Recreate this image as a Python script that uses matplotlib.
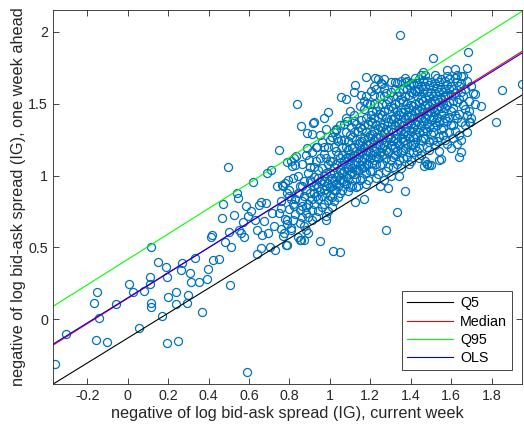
import numpy as np
import matplotlib.pyplot as plt

# Points: current week (x) vs one week ahead (y)
x_sparse = [-0.361, -0.307, -0.167, -0.150, -0.142, -0.158, -0.104, -0.059, 0.007, 0.028,
            0.056, 0.081, 0.109, 0.114, 0.109, 0.114, 0.114, 0.150, 0.168, 0.188,
            0.196, 0.198, 0.193, 0.237, 0.237, 0.249, 0.262, 0.270, 0.292, 0.298,
            0.308, 0.315, 0.335, 0.353, 0.369, 0.394, 0.397, 0.414, 0.419, 0.424,
            0.452, 0.473, 0.468, 0.480, 0.496, 0.503, 0.506, 0.513, 0.526, 0.542,
            0.546, 0.551, 0.559, 0.572, 0.575, 0.584, 0.592, 0.595, 0.608, 0.621,
            0.628, 0.638, 0.641, 0.650, 0.658, 0.666, 0.674, 0.683, 0.691, 0.694,
            0.704, 0.707, 0.716, 0.724, 0.727, 0.740, 0.749, 0.757, 0.765, 0.773,
            0.782, 0.790, 0.793, 0.798, 0.806, 0.815, 0.823, 0.831, 0.839, 0.847,
            0.852, 0.856, 0.864, 0.872, 0.880, 0.889, 0.897, 0.905, 0.658, 0.971,
            0.993, 1.054, 1.082, 1.124, 1.179, 1.222, 1.240, 1.255, 1.186, 1.347,
            1.509, 1.684, 1.853, 1.824, 1.950, 1.276, 1.331, 1.370, 1.016, 1.050,
            0.950, 1.124, 1.169, 1.012, 0.979, 0.856, 0.786, 1.650, 1.640, 1.466,
            1.542, 1.746, 1.720, 1.693, 1.480, 1.120, 0.920,
            1.260, 1.152, 1.202, 0.918, 0.913, 1.029, 0.971, 1.053, 1.103, 1.152,
            1.202, 0.822, 0.790, 0.938, 0.889, 1.087, 1.037, 1.680, 1.647, 1.620,
            1.580, 1.490, 1.548]
y_sparse = [-0.311, -0.102, 0.111, 0.188, 0.007, -0.144, -0.160, 0.107, 0.244, 0.188,
            -0.060, 0.200, 0.293, 0.506, 0.246, 0.111, 0.088, 0.402, 0.023, 0.367,
            0.297, 0.158, -0.167, 0.193, 0.107, -0.149, 0.344, 0.395, 0.116, 0.170,
            0.321, 0.262, 0.425, 0.262, 0.053, 0.283, 0.348, 0.571, 0.588, 0.413,
            0.418, 0.804, 0.704, 0.541, 1.057, 0.606, 0.237, 0.502, 0.727, 0.878,
            0.843, 0.623, 0.599, 0.674, 0.576, 0.785, -0.365, 0.716, 0.750, 0.952,
            0.692, 0.451, 0.623, 0.797, 0.495, 0.588, 0.681, 0.808, 1.017, 0.599,
            0.506, 1.040, 0.739, 0.646, 0.483, 0.925, 1.180, 0.774, 0.936, 0.599,
            0.518, 0.692, 0.971, 0.855, 0.634, 1.064, 0.785, 1.134, 1.494, 0.878,
            0.553, 1.343, 0.785, 0.553, 0.623, 1.296, 1.110, 0.952, 0.818, 1.401,
            1.440, 1.545, 1.533, 1.628, 1.684, 1.675, 1.670, 1.640, 1.505, 1.977,
            1.819, 1.855, 1.591, 1.370, 1.633, 0.623, 0.746, 0.890, 0.472, 0.465,
            0.548, 0.813, 0.836, 0.780, 0.692, 0.553, 0.518, 1.161, 1.130, 1.064,
            1.110, 1.482, 1.568, 1.370, 1.080, 1.580, 1.370,
            1.635, 1.561, 1.584, 1.368, 1.289, 1.317, 1.196, 1.247, 1.340, 1.387,
            1.422, 1.120, 1.096, 1.201, 1.189, 1.376, 1.259, 1.747, 1.689, 1.740,
            1.730, 1.073, 1.113]

# Dense cluster, read strip by strip along x
cluster = [
    (0.76, 0.82), (0.77, 0.93), (0.78, 0.70), (0.79, 0.88), (0.76, 0.63), (0.80, 0.77),
    (0.78, 0.95), (0.77, 0.58), (0.80, 0.90), (0.79, 0.66), (0.75, 0.74), (0.81, 0.84),
    (0.81, 0.62), (0.82, 0.98), (0.83, 0.73), (0.84, 0.88), (0.82, 0.80), (0.85, 0.67),
    (0.83, 1.07), (0.84, 0.57), (0.85, 0.93), (0.81, 1.10), (0.83, 0.84), (0.85, 0.76),
    (0.82, 0.69), (0.84, 1.00),
    (0.86, 0.82), (0.87, 0.96), (0.88, 0.74), (0.89, 1.02), (0.86, 1.08), (0.87, 0.65),
    (0.88, 0.90), (0.89, 0.80), (0.90, 0.97), (0.86, 0.71), (0.88, 1.14), (0.87, 0.86),
    (0.89, 0.60), (0.90, 0.88), (0.88, 0.78), (0.86, 0.93), (0.90, 1.06), (0.89, 0.71),
    (0.91, 0.84), (0.92, 0.99), (0.93, 1.10), (0.94, 0.92), (0.91, 0.76), (0.92, 0.88),
    (0.93, 0.71), (0.94, 1.04), (0.95, 0.96), (0.91, 1.16), (0.92, 0.80), (0.93, 0.94),
    (0.94, 0.84), (0.95, 1.12), (0.91, 0.69), (0.92, 1.06), (0.93, 0.86), (0.94, 0.75),
    (0.95, 0.89), (0.93, 1.20), (0.92, 0.93), (0.94, 0.98), (0.95, 1.28), (0.98, 1.32),
    (0.96, 0.86), (0.97, 1.00), (0.98, 0.93), (0.99, 1.08), (0.96, 0.78), (0.97, 1.15),
    (0.98, 0.72), (0.99, 0.95), (1.00, 1.02), (0.96, 1.05), (0.97, 0.90), (0.98, 1.12),
    (0.99, 0.83), (1.00, 0.92), (0.96, 0.97), (0.97, 0.80), (0.98, 1.02), (0.99, 1.20),
    (1.00, 0.86), (0.96, 1.23), (0.98, 0.88), (0.99, 0.75), (1.00, 1.10), (0.97, 0.96),
    (1.00, 1.25), (1.02, 1.30), (1.05, 1.35), (1.08, 1.40), (1.10, 1.45), (1.12, 1.38),
    (1.01, 0.98), (1.02, 1.06), (1.03, 0.90), (1.04, 1.14), (1.01, 0.85), (1.02, 1.20),
    (1.03, 0.99), (1.04, 0.93), (1.05, 1.04), (1.01, 1.10), (1.02, 0.82), (1.03, 1.08),
    (1.04, 1.00), (1.05, 0.88), (1.01, 0.93), (1.02, 0.96), (1.03, 1.17), (1.04, 0.85),
    (1.05, 1.12), (1.01, 1.27), (1.02, 1.02), (1.03, 0.94), (1.04, 1.24), (1.05, 0.97),
    (1.03, 1.32), (1.02, 0.90),
    (1.06, 1.02), (1.07, 1.10), (1.08, 0.94), (1.09, 1.18), (1.06, 0.90), (1.07, 1.25),
    (1.08, 1.05), (1.09, 0.98), (1.10, 1.08), (1.06, 1.14), (1.07, 0.96), (1.08, 1.20),
    (1.09, 1.06), (1.10, 0.92), (1.06, 1.07), (1.07, 1.03), (1.08, 1.30), (1.09, 0.89),
    (1.10, 1.15), (1.06, 0.97), (1.08, 1.12), (1.09, 1.24), (1.10, 1.01), (1.07, 1.36),
    (1.06, 1.20), (1.09, 1.13), (1.10, 1.28), (1.08, 0.99),
    (1.11, 1.05), (1.12, 1.14), (1.13, 0.98), (1.14, 1.22), (1.11, 0.93), (1.12, 1.30),
    (1.13, 1.10), (1.14, 1.04), (1.15, 1.16), (1.11, 1.19), (1.12, 1.01), (1.13, 1.25),
    (1.14, 1.12), (1.15, 0.97), (1.11, 1.12), (1.12, 1.08), (1.13, 1.36), (1.14, 0.93),
    (1.15, 1.23), (1.11, 1.02), (1.12, 1.20), (1.13, 1.17), (1.14, 1.31), (1.15, 1.07),
    (1.12, 1.42), (1.11, 1.27), (1.13, 1.04), (1.14, 1.15), (1.15, 1.34), (1.13, 0.92),
    (1.15, 1.48), (1.18, 1.55), (1.20, 1.50), (1.22, 1.62), (1.25, 1.55), (1.27, 1.67),
    (1.16, 1.10), (1.17, 1.20), (1.18, 1.02), (1.19, 1.27), (1.16, 0.98), (1.17, 1.35),
    (1.18, 1.14), (1.19, 1.08), (1.20, 1.22), (1.16, 1.24), (1.17, 1.06), (1.18, 1.30),
    (1.19, 1.17), (1.20, 1.03), (1.16, 1.16), (1.17, 1.12), (1.18, 1.40), (1.19, 0.97),
    (1.20, 1.28), (1.16, 1.05), (1.17, 1.26), (1.18, 1.22), (1.19, 1.36), (1.20, 1.12),
    (1.17, 1.46), (1.16, 1.32), (1.18, 1.08), (1.19, 1.21), (1.20, 1.38), (1.18, 0.94),
    (1.17, 1.52), (1.20, 1.16),
    (1.21, 1.14), (1.22, 1.25), (1.23, 1.08), (1.24, 1.32), (1.21, 1.03), (1.22, 1.40),
    (1.23, 1.19), (1.24, 1.12), (1.25, 1.27), (1.21, 1.29), (1.22, 1.11), (1.23, 1.35),
    (1.24, 1.22), (1.25, 1.07), (1.21, 1.20), (1.22, 1.17), (1.23, 1.45), (1.24, 1.01),
    (1.25, 1.34), (1.21, 1.09), (1.22, 1.31), (1.23, 1.27), (1.24, 1.41), (1.25, 1.16),
    (1.22, 1.50), (1.21, 1.37), (1.23, 1.13), (1.24, 1.26), (1.25, 1.43), (1.23, 0.98),
    (1.22, 1.56), (1.25, 1.21), (1.24, 1.48), (1.21, 1.45), (1.23, 1.60), (1.25, 0.93),
    (1.26, 1.19), (1.27, 1.30), (1.28, 1.12), (1.29, 1.37), (1.26, 1.08), (1.27, 1.45),
    (1.28, 1.24), (1.29, 1.16), (1.30, 1.32), (1.26, 1.34), (1.27, 1.15), (1.28, 1.40),
    (1.29, 1.27), (1.30, 1.11), (1.26, 1.25), (1.27, 1.21), (1.28, 1.50), (1.29, 1.06),
    (1.30, 1.39), (1.26, 1.14), (1.27, 1.36), (1.28, 1.32), (1.29, 1.46), (1.30, 1.21),
    (1.27, 1.55), (1.26, 1.42), (1.28, 1.18), (1.29, 1.31), (1.30, 1.48), (1.28, 1.03),
    (1.27, 1.61), (1.30, 1.26), (1.29, 1.53), (1.26, 1.50), (1.28, 1.57), (1.30, 1.00),
    (1.29, 0.91), (1.27, 0.97), (1.30, 1.58), (1.30, 1.65),
    (1.31, 1.24), (1.32, 1.35), (1.33, 1.17), (1.34, 1.42), (1.31, 1.13), (1.32, 1.50),
    (1.33, 1.29), (1.34, 1.21), (1.35, 1.37), (1.31, 1.39), (1.32, 1.20), (1.33, 1.45),
    (1.34, 1.32), (1.35, 1.16), (1.31, 1.30), (1.32, 1.26), (1.33, 1.55), (1.34, 1.11),
    (1.35, 1.44), (1.31, 1.19), (1.32, 1.41), (1.33, 1.37), (1.34, 1.51), (1.35, 1.26),
    (1.32, 1.60), (1.31, 1.47), (1.33, 1.23), (1.34, 1.36), (1.35, 1.53), (1.33, 1.08),
    (1.32, 1.65), (1.35, 1.31), (1.34, 1.58), (1.31, 1.55), (1.33, 1.64), (1.35, 1.05),
    (1.34, 1.00), (1.31, 1.06), (1.35, 1.66), (1.32, 1.14),
    (1.36, 1.29), (1.37, 1.40), (1.38, 1.22), (1.39, 1.47), (1.36, 1.18), (1.37, 1.55),
    (1.38, 1.34), (1.39, 1.26), (1.40, 1.42), (1.36, 1.44), (1.37, 1.25), (1.38, 1.50),
    (1.39, 1.37), (1.40, 1.21), (1.36, 1.35), (1.37, 1.31), (1.38, 1.60), (1.39, 1.16),
    (1.40, 1.49), (1.36, 1.24), (1.37, 1.46), (1.38, 1.42), (1.39, 1.56), (1.40, 1.31),
    (1.37, 1.65), (1.36, 1.52), (1.38, 1.28), (1.39, 1.41), (1.40, 1.58), (1.38, 1.13),
    (1.37, 1.68), (1.40, 1.36), (1.39, 1.63), (1.36, 1.60), (1.38, 1.66), (1.40, 1.10),
    (1.39, 1.08), (1.36, 1.12), (1.40, 1.64), (1.37, 1.19),
    (1.41, 1.33), (1.42, 1.45), (1.43, 1.27), (1.44, 1.51), (1.41, 1.22), (1.42, 1.59),
    (1.43, 1.38), (1.44, 1.30), (1.45, 1.47), (1.41, 1.48), (1.42, 1.29), (1.43, 1.55),
    (1.44, 1.41), (1.45, 1.25), (1.41, 1.40), (1.42, 1.36), (1.43, 1.64), (1.44, 1.19),
    (1.45, 1.53), (1.41, 1.27), (1.42, 1.50), (1.43, 1.46), (1.44, 1.60), (1.45, 1.35),
    (1.42, 1.68), (1.41, 1.57), (1.43, 1.32), (1.44, 1.45), (1.45, 1.62), (1.43, 1.17),
    (1.42, 1.23), (1.45, 1.40), (1.44, 1.67), (1.41, 1.64), (1.43, 1.59), (1.45, 1.14),
    (1.44, 1.12), (1.41, 1.16), (1.45, 1.70), (1.42, 1.20),
    (1.46, 1.38), (1.47, 1.49), (1.48, 1.31), (1.49, 1.55), (1.46, 1.26), (1.47, 1.62),
    (1.48, 1.42), (1.49, 1.34), (1.50, 1.51), (1.46, 1.52), (1.47, 1.33), (1.48, 1.58),
    (1.49, 1.45), (1.50, 1.29), (1.46, 1.44), (1.47, 1.40), (1.48, 1.66), (1.49, 1.23),
    (1.50, 1.57), (1.46, 1.31), (1.47, 1.54), (1.48, 1.50), (1.49, 1.63), (1.50, 1.39),
    (1.47, 1.70), (1.46, 1.60), (1.48, 1.36), (1.49, 1.48), (1.50, 1.65), (1.48, 1.20),
    (1.47, 1.26), (1.50, 1.44), (1.49, 1.18), (1.46, 1.66), (1.48, 1.08), (1.50, 1.07),
    (1.47, 1.10), (1.46, 1.72),
    (1.51, 1.41), (1.52, 1.52), (1.53, 1.35), (1.54, 1.58), (1.51, 1.30), (1.52, 1.64),
    (1.53, 1.46), (1.54, 1.38), (1.55, 1.54), (1.51, 1.55), (1.52, 1.37), (1.53, 1.61),
    (1.54, 1.48), (1.55, 1.32), (1.51, 1.47), (1.52, 1.44), (1.53, 1.68), (1.54, 1.27),
    (1.55, 1.60), (1.51, 1.34), (1.52, 1.57), (1.53, 1.53), (1.54, 1.65), (1.55, 1.43),
    (1.52, 1.70), (1.51, 1.62), (1.53, 1.40), (1.54, 1.51), (1.55, 1.67), (1.53, 1.24),
    (1.52, 1.21), (1.55, 1.47), (1.54, 1.17), (1.51, 1.25),
    (1.56, 1.44), (1.57, 1.55), (1.58, 1.38), (1.59, 1.60), (1.56, 1.33), (1.57, 1.66),
    (1.58, 1.49), (1.59, 1.41), (1.60, 1.56), (1.56, 1.58), (1.57, 1.40), (1.58, 1.63),
    (1.59, 1.51), (1.60, 1.35), (1.56, 1.50), (1.57, 1.47), (1.58, 1.69), (1.59, 1.30),
    (1.60, 1.62), (1.56, 1.37), (1.57, 1.60), (1.58, 1.56), (1.59, 1.67), (1.60, 1.45),
    (1.57, 1.25), (1.56, 1.28), (1.58, 1.22), (1.60, 1.19),
    (1.61, 1.47), (1.62, 1.57), (1.63, 1.40), (1.64, 1.62), (1.61, 1.35), (1.62, 1.68),
    (1.63, 1.51), (1.64, 1.43), (1.65, 1.58), (1.61, 1.60), (1.62, 1.42), (1.63, 1.65),
    (1.64, 1.53), (1.65, 1.37), (1.61, 1.52), (1.62, 1.31), (1.63, 1.70), (1.64, 1.28),
    (1.65, 1.64), (1.61, 1.26), (1.63, 1.22), (1.65, 1.25),
    (1.66, 1.49), (1.67, 1.60), (1.68, 1.42), (1.69, 1.37), (1.66, 1.55), (1.67, 1.35),
    (1.68, 1.66), (1.69, 1.52), (1.70, 1.40), (1.66, 1.69), (1.67, 1.46), (1.68, 1.30),
    (1.71, 1.57), (1.70, 1.62), (1.72, 1.50), (1.69, 1.45),
]

# Fitted lines: (intercept, slope)
fit_names = ["Q5", "Median", "Q95", "OLS"]
fit_intercepts = [-0.130, 0.146, 0.417, 0.150]
fit_slopes = [0.866, 0.880, 0.884, 0.872]
fit_colors = ["black", "red", "#00ff00", "blue"]

x_limits = (-0.37, 1.95)
y_limits = (-0.45, 2.15)


def plot_results(x, y):
    plt.rcParams["font.family"] = ["Liberation Sans", "DejaVu Sans"]
    fig = plt.figure(figsize=(5.24, 4.37), dpi=100)
    ax = fig.add_axes([0.101, 0.121, 0.895, 0.856])

    ax.plot(x, y, "o", markersize=5.8, markerfacecolor="none",
            markeredgecolor="#0072BD", markeredgewidth=0.9, linestyle="none")

    # Regression lines across the whole x range
    xs = np.array(x_limits)
    for name, b0, b1, c in zip(fit_names, fit_intercepts, fit_slopes, fit_colors):
        ax.plot(xs, b0 + b1 * xs, color=c, linewidth=0.8, label=name)

    ax.set_xlim(*x_limits)
    ax.set_ylim(*y_limits)
    ax.set_xticks(np.arange(-0.2, 1.81, 0.2))
    ax.set_xticklabels(["-0.2", "0", "0.2", "0.4", "0.6", "0.8", "1", "1.2", "1.4", "1.6", "1.8"])
    ax.set_yticks([0, 0.5, 1, 1.5, 2])
    ax.set_yticklabels(["0", "0.5", "1", "1.5", "2"])
    ax.tick_params(direction="in", top=True, right=True, length=4, width=0.6,
                   labelsize=10.3, colors="#262626", labelcolor="#262626")
    for s in ax.spines.values():
        s.set_linewidth(0.6)
        s.set_color("#262626")

    ax.set_xlabel("negative of log bid-ask spread (IG), current week", fontsize=11.7,
                  color="#262626", labelpad=2)
    ax.set_ylabel("negative of log bid-ask spread (IG), one week ahead", fontsize=11.7,
                  color="#262626", labelpad=2)

    leg = ax.legend(loc="lower right", bbox_to_anchor=(0.979, 0.037), fontsize=10.3,
                    handlelength=3.2, fancybox=False, framealpha=1, borderaxespad=0,
                    labelspacing=0.3, handletextpad=0.5, borderpad=0.35)
    leg.get_frame().set_edgecolor("#262626")
    leg.get_frame().set_linewidth(0.6)

    fig.savefig("out.png", dpi=100)


def main():
    xc = [p[0] for p in cluster]
    yc = [p[1] for p in cluster]
    x = np.array(x_sparse + xc)
    y = np.array(y_sparse + yc)
    plot_results(x, y)


if __name__ == "__main__":
    main()
